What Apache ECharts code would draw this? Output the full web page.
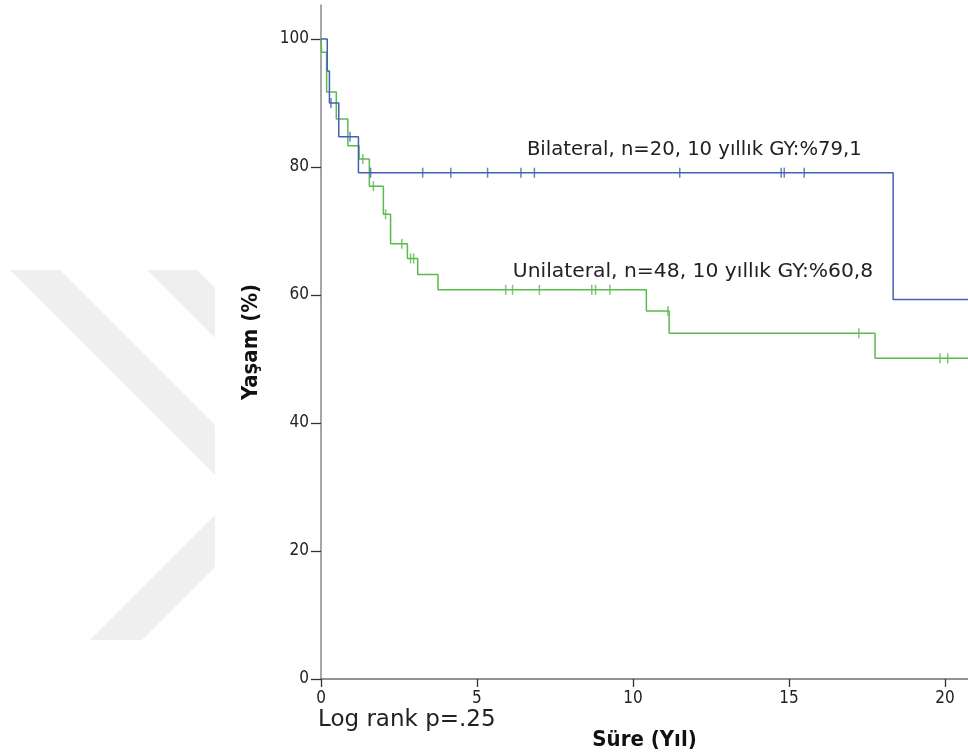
<!DOCTYPE html>
<html>
<head>
<meta charset="utf-8">
<script src="https://cdn.jsdelivr.net/npm/echarts@6/dist/echarts.min.js"></script>
<style>
  html, body { margin: 0; padding: 0; background: #ffffff; }
  #chart { width: 968px; height: 756px; }
</style>
</head>
<body>
<div id="chart"></div>
<script>
// Kaplan–Meier step curves: event times (years) and survival (%) after each step
const bilateralTimes = [0, 0.20, 0.27, 0.57, 1.20, 18.34];
const bilateralSurv  = [100, 95, 90, 84.7, 79.1, 59.3];
const bilateralCensor = [0.32, 0.93, 1.59, 3.26, 4.16, 5.34, 6.41, 6.84, 11.50, 14.75, 14.85, 15.49];

const unilateralTimes = [0, 0.02, 0.18, 0.49, 0.86, 1.22, 1.55, 2.00, 2.23, 2.77, 3.10, 3.75, 10.43, 11.16, 17.76];
const unilateralSurv  = [100, 97.9, 91.7, 87.5, 83.3, 81.25, 77.0, 72.6, 68.0, 65.7, 63.2, 60.8, 57.5, 54.0, 50.1];
const unilateralCensor = [1.34, 1.68, 2.07, 2.59, 2.87, 2.97, 5.92, 6.14, 7.00, 8.68, 8.80, 9.26, 11.12, 17.24, 19.84, 20.09];

const xTicks = [0, 5, 10, 15, 20];
const yTicks = [0, 20, 40, 60, 80, 100];

const bilateralLabel = 'Bilateral, n=20, 10 yıllık GY:%79,1';
const unilateralLabel = 'Unilateral, n=48, 10 yıllık GY:%60,8';
const pText = 'Log rank p=.25';

const X_MAX = 20.74;
const Y_MAX = 105.3;
const BLUE = '#4360b3';
const GREEN = '#5cb94e';

function stepData(times, surv) {
  const pts = times.map((t, i) => [t, surv[i]]);
  pts.push([X_MAX, surv[surv.length - 1]]);
  return pts;
}
function survAt(times, surv, t) {
  let v = surv[0];
  for (let i = 0; i < times.length; i++) { if (times[i] <= t) v = surv[i]; }
  return v;
}
function censorData(times, surv, cens) {
  return cens.map(t => [t, survAt(times, surv, t)]);
}

const chart = echarts.init(document.getElementById('chart'), null, { renderer: 'canvas' });

const tickFont = 'DejaVu Sans Condensed, Liberation Sans Narrow, DejaVu Sans, sans-serif';
const annoFont = 'DejaVu Sans, sans-serif';

// light chevron emblem in the background (left margin)
const emblemColor = '#efefef';
const emblem = [
  [[10, 270], [60, 270], [215, 425], [215, 475]],
  [[147, 270], [197, 270], [215, 288], [215, 338]],
  [[90, 640], [142, 640], [215, 567], [215, 515]]
].map(pts => ({
  type: 'polygon', z: -10, silent: true,
  shape: { points: pts },
  style: { fill: emblemColor }
}));

chart.setOption({
  animation: false,
  backgroundColor: '#ffffff',
  grid: { left: 321, right: 0, top: 5, bottom: 77, containLabel: false },
  xAxis: {
    type: 'value', min: 0, max: X_MAX,
    name: 'Süre (Yıl)', nameLocation: 'middle', nameGap: 50,
    nameTextStyle: { fontFamily: tickFont, fontWeight: 'bold', fontSize: 22, color: '#111' },
    axisLine: { show: true, onZero: false, lineStyle: { color: '#6f6f6f', width: 1.5 } },
    axisTick: { show: true, length: 8, lineStyle: { color: '#333', width: 1.3 }, customValues: xTicks },
    axisLabel: { customValues: xTicks, margin: 11, fontFamily: tickFont, fontSize: 17, color: '#222' },
    splitLine: { show: false }
  },
  yAxis: {
    type: 'value', min: 0, max: Y_MAX,
    name: 'Yaşam (%)', nameLocation: 'middle', nameGap: 59, nameRotate: 90,
    nameTextStyle: { fontFamily: tickFont, fontWeight: 'bold', fontSize: 22, color: '#111' },
    axisLine: { show: true, onZero: false, lineStyle: { color: '#8a8a8a', width: 1.5 } },
    axisTick: { show: true, length: 10, lineStyle: { color: '#333', width: 1.3 }, customValues: yTicks },
    axisLabel: { customValues: yTicks, margin: 12, fontFamily: tickFont, fontSize: 17, color: '#222' },
    splitLine: { show: false }
  },
  series: [
    {
      name: 'Bilateral', type: 'line', step: 'end', showSymbol: false,
      data: stepData(bilateralTimes, bilateralSurv),
      lineStyle: { color: BLUE, width: 1.5 }, z: 3
    },
    {
      name: 'Unilateral', type: 'line', step: 'end', showSymbol: false,
      data: stepData(unilateralTimes, unilateralSurv),
      lineStyle: { color: GREEN, width: 1.5 }, z: 2
    },
    {
      name: 'Bilateral sansür', type: 'scatter', symbol: 'rect', symbolSize: [1.5, 10],
      data: censorData(bilateralTimes, bilateralSurv, bilateralCensor),
      itemStyle: { color: BLUE }, z: 4
    },
    {
      name: 'Unilateral sansür', type: 'scatter', symbol: 'rect', symbolSize: [1.5, 10],
      data: censorData(unilateralTimes, unilateralSurv, unilateralCensor),
      itemStyle: { color: GREEN }, z: 4
    }
  ]
});

// curve annotations anchored in data space, plus the test result under the axis
const bPos = chart.convertToPixel({ gridIndex: 0 }, [6.6, 82.7]);
const uPos = chart.convertToPixel({ gridIndex: 0 }, [6.15, 63.7]);
chart.setOption({
  graphic: emblem.concat([
    { type: 'text', x: bPos[0], y: bPos[1], silent: true,
      style: { text: bilateralLabel, font: '19.6px ' + annoFont, fill: '#222', textVerticalAlign: 'middle' } },
    { type: 'text', x: uPos[0], y: uPos[1], silent: true,
      style: { text: unilateralLabel, font: '20.3px ' + annoFont, fill: '#222', textVerticalAlign: 'middle' } },
    { type: 'text', x: 318, y: 709, silent: true,
      style: { text: pText, font: '23px ' + annoFont, fill: '#222' } }
  ])
});
</script>
</body>
</html>
